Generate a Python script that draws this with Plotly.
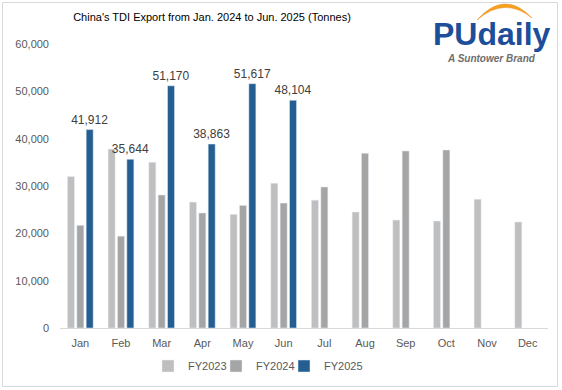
import plotly.graph_objects as go

months = ["Jan", "Feb", "Mar", "Apr", "May", "Jun", "Jul", "Aug", "Sep", "Oct", "Nov", "Dec"]
fy2023 = [32000, 37800, 35000, 26600, 24000, 30600, 27000, 24500, 22800, 22600, 27200, 22400]
fy2024 = [21700, 19400, 28100, 24300, 25900, 26400, 29800, 36900, 37400, 37600, None, None]
fy2025 = [41912, 35644, 51170, 38863, 51617, 48104, None, None, None, None, None, None]
fy2025_labels = ["41,912", "35,644", "51,170", "38,863", "51,617", "48,104", "", "", "", "", "", ""]

title_text = "China's TDI Export from Jan. 2024 to Jun. 2025 (Tonnes)"
FONT = "Liberation Sans, Arial, sans-serif"

fig = go.Figure()
fig.add_trace(go.Bar(name="FY2023", x=months, y=fy2023, marker_color="#BFBFBF",
                     legend="legend"))
fig.add_trace(go.Bar(name="FY2024", x=months, y=fy2024, marker_color="#A5A5A5",
                     legend="legend2"))
fig.add_trace(go.Bar(name="FY2025", x=months, y=fy2025, marker_color="#255E91",
                     text=fy2025_labels, textposition="outside", constraintext="none",
                     textfont=dict(size=12, color="#404040", family=FONT),
                     cliponaxis=False, legend="legend3"))

W, H = 562, 390
L, R, T, B = 60, 14, 44, 62
pw, ph = W - L - R, H - T - B

def px(x):
    return (x - L) / pw

def py(y):
    return (H - B - y) / ph

def legend_at(xleft):
    return dict(orientation="h", xref="container", yref="container",
                x=xleft / W, xanchor="left", y=1 - 366 / H, yanchor="middle",
                font=dict(size=11, color="#595959"), bgcolor="rgba(0,0,0,0)")

fig.update_layout(
    width=W, height=H,
    margin=dict(l=L, r=R, t=T, b=B, autoexpand=False),
    paper_bgcolor="white", plot_bgcolor="white",
    font=dict(family=FONT, size=11, color="#595959"),
    barmode="group", bargap=0.31, bargroupgap=0.25,
    title=dict(text=title_text, font=dict(size=11, color="#000000", family=FONT),
               x=212 / W, xref="container", xanchor="center",
               y=1 - 17 / H, yref="container", yanchor="middle"),
    showlegend=True,
    legend=legend_at(148), legend2=legend_at(216), legend3=legend_at(284),
    xaxis=dict(showline=True, linecolor="#D9D9D9", linewidth=1, ticks="",
               showgrid=False, tickfont=dict(size=11, color="#595959"),
               ticklabelstandoff=5, automargin=False),
    yaxis=dict(range=[0, 60000], dtick=10000, tickformat=",", showgrid=False,
               zeroline=False, showline=False, ticks="",
               tickfont=dict(size=11, color="#595959"), ticklabelstandoff=10,
               automargin=False),
)

# outer border
fig.add_shape(type="rect", xref="paper", yref="paper",
              x0=px(2.5), x1=px(557.5), y0=py(386.5), y1=py(2.5),
              line=dict(color="#D9D9D9", width=1), fillcolor="rgba(0,0,0,0)", layer="below")

# logo arc
xl, xm, xr = px(477), px(504.5), px(532)
arc = (f"M {xl},{py(20)} Q {xm},{py(-11)} {xr},{py(18)} "
       f"Q {xm},{py(-4)} {xl},{py(20)} Z")
fig.add_shape(type="path", xref="paper", yref="paper", path=arc,
              fillcolor="#F4A11D", line=dict(color="#F08A1C", width=0.5))

fig.add_annotation(text="<b>PUdaily</b>", xref="paper", yref="paper",
                   x=px(492), y=py(34), xanchor="center", yanchor="middle",
                   showarrow=False, font=dict(size=32, color="#1D4E9A", family=FONT))
fig.add_annotation(text="<b><i>A Suntower Brand</i></b>", xref="paper", yref="paper",
                   x=px(491), y=py(58), xanchor="center", yanchor="middle",
                   showarrow=False, font=dict(size=10, color="#6E6E6E", family=FONT))

fig.write_html("out.html", config={"displayModeBar": False},
               post_script="document.body.style.margin='0';")
